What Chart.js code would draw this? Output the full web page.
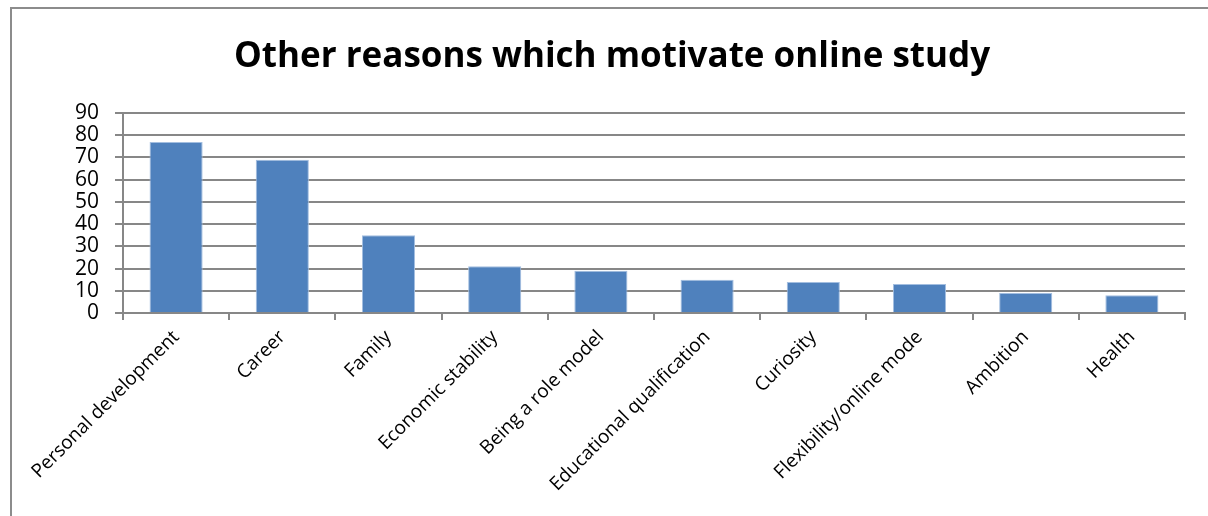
<!DOCTYPE html>
<html lang="en">
<head>
    <meta charset="UTF-8">
    <title>Other reasons which motivate online study</title>
    <style>
        body { margin:0; background:#fff; overflow:hidden; }
        .frame { position:absolute; left:10px; top:7px; width:1300px; height:600px; border:2px solid #8c8c8c; box-sizing:border-box; }
        .wrap { position:absolute; left:0; top:0; width:1208px; height:516px; }
    </style>
</head>
<body>
<div class="frame"></div>
<div class="wrap"><canvas id="myChart" width="1208" height="516"></canvas></div>

<script src="https://cdn.jsdelivr.net/npm/chart.js@4/dist/chart.umd.min.js"></script>
<script>
    // categories and values
    const reasons = ["Personal development", "Career", "Family", "Economic stability", "Being a role model",
        "Educational qualification", "Curiosity", "Flexibility/online mode", "Ambition", "Health"];
    const counts = [77, 69, 35, 21, 19, 15, 14, 13, 9, 8];
    const yMax = 90, yStep = 10;

    const gridGray = "#878787";

    var myChart = new Chart("myChart", {
        type: "bar",
        data: {
            labels: reasons,
            datasets: [{
                data: counts,
                backgroundColor: "#4F81BD",
                borderColor: "#A3BEE0",
                borderWidth: 1,
                barPercentage: 0.5,
                categoryPercentage: 1
            }]
        },
        options: {
            responsive: false,
            animation: false,
            layout: { padding: { left: 16, right: 0, top: 0, bottom: 0 } },
            plugins: {
                legend: { display: false },
                tooltip: { enabled: false },
                title: {
                    display: true,
                    text: "Other reasons which motivate online study",
                    color: "#000",
                    font: { family: "Open Sans", size: 35, weight: "bold" },
                    padding: { top: 36, bottom: 35 }
                }
            },
            scales: {
                x: {
                    afterFit: s => { s.height = 203; },
                    grid: { offset: true, drawOnChartArea: false, drawTicks: true, tickLength: 7, color: gridGray, lineWidth: 2 },
                    border: { color: gridGray, width: 2 },
                    ticks: {
                        autoSkip: false, minRotation: 45, maxRotation: 45, padding: 6,
                        color: "#000", font: { family: "Open Sans", size: 19 }
                    }
                },
                y: {
                    min: 0, max: yMax,
                    afterFit: s => { s.width = 107; },
                    grid: { color: gridGray, lineWidth: 2, tickLength: 8 },
                    border: { color: gridGray, width: 2 },
                    ticks: {
                        stepSize: yStep, autoSkip: false, padding: 16,
                        color: "#000", font: { family: "Open Sans", size: 21, lineHeight: 1 }
                    }
                },
                // empty right-hand strip so the plot stops where the original does
                yPad: {
                    position: "right",
                    afterFit: s => { s.width = 23; },
                    grid: { drawOnChartArea: false, drawTicks: false },
                    border: { display: false },
                    ticks: { display: false }
                }
            }
        }
    });
</script>
</body>
</html>
